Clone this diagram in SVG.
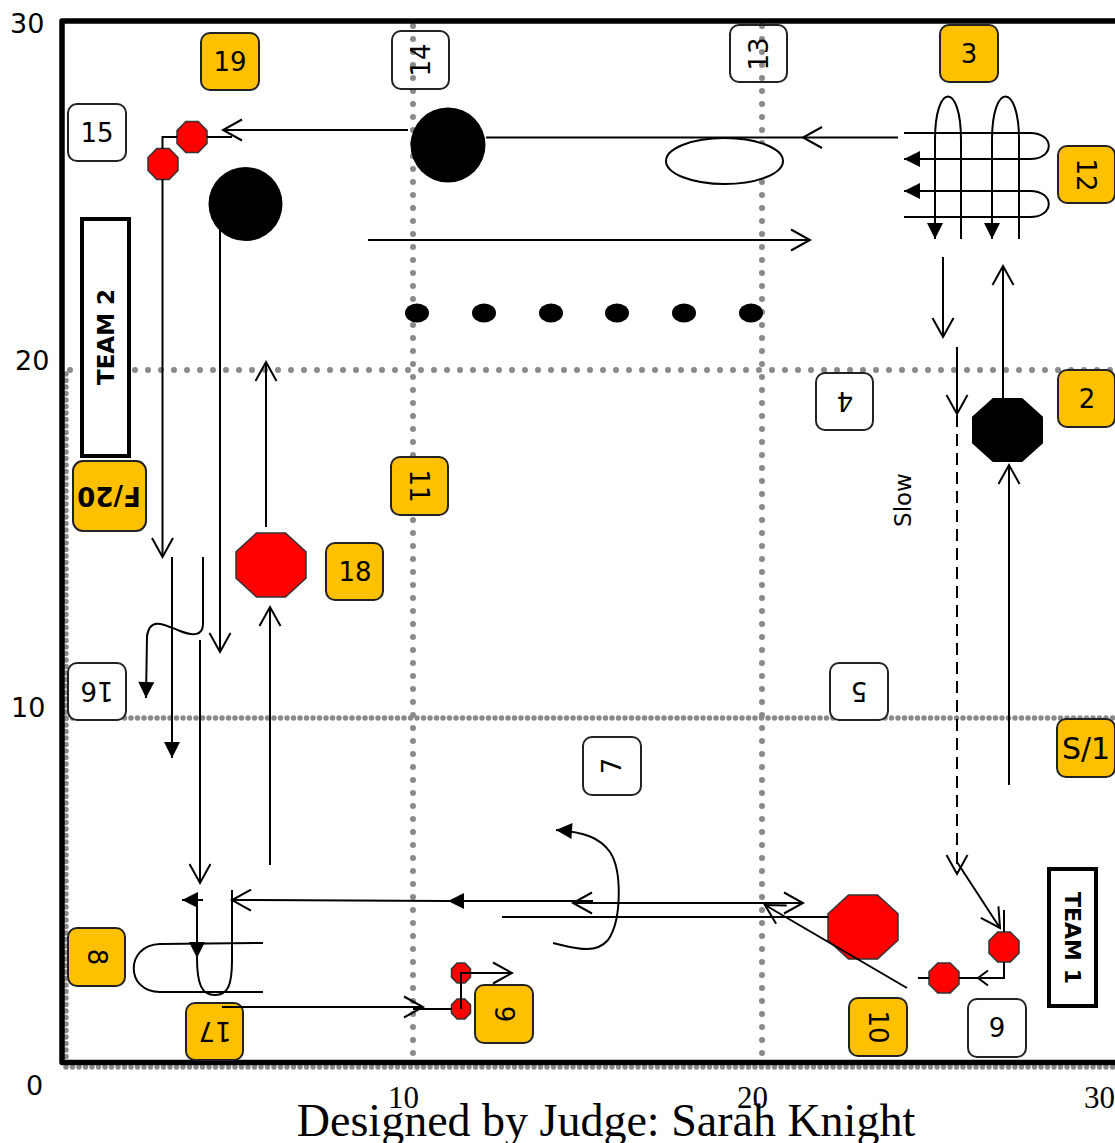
<svg xmlns="http://www.w3.org/2000/svg" width="1115" height="1143" viewBox="0 0 1115 1143">
<style>
.grid{fill:none;stroke:#8a8a8a;stroke-linecap:round}
.sp{stroke-width:6;stroke-dasharray:0 13}
.dn{stroke-width:5.5;stroke-dasharray:0 6.5}
.frame{fill:none;stroke:#000;stroke-width:5.5;stroke-linejoin:round}
.box{stroke:#222;stroke-width:2}
.y{fill:#FFC000}
.w{fill:#fff}
.lbl{font-family:"DejaVu Sans",Verdana,sans-serif;font-size:26px;fill:#000;text-anchor:middle;dominant-baseline:central}
.bold{font-weight:bold}
.team{fill:#fff;stroke:#000;stroke-width:4}
.ln{fill:none;stroke:#000;stroke-width:2}
.oa{marker-end:url(#open)}
.fa{marker-end:url(#filled)}
.red{fill:#FF0000;stroke:#333;stroke-width:1.5}
.blk{fill:#000}
.ax{font-family:"DejaVu Sans",Verdana,sans-serif;font-size:27px;fill:#000}
.axs{font-family:"Liberation Serif","Times New Roman",serif;font-size:31px;fill:#000}
</style>
<defs>
<marker id="open" viewBox="-22 -13 26 26" refX="0" refY="0" markerWidth="26" markerHeight="26" orient="auto-start-reverse" markerUnits="userSpaceOnUse">
<path d="M-19,-10.5 L0,0 L-19,10.5" fill="none" stroke="#000" stroke-width="2"/>
</marker>
<marker id="openS" viewBox="-14 -9 16 18" refX="0" refY="0" markerWidth="16" markerHeight="18" orient="auto" markerUnits="userSpaceOnUse">
<path d="M-10,-7.5 L0,0 L-10,7.5" fill="none" stroke="#000" stroke-width="2"/>
</marker>
<marker id="filled" viewBox="-18 -10 20 20" refX="0" refY="0" markerWidth="20" markerHeight="20" orient="auto" markerUnits="userSpaceOnUse">
<path d="M-16,-8 L0,0 L-16,8 Z" fill="#000"/>
</marker>
</defs>
<rect width="1115" height="1143" fill="#fff"/>

<g id="grid">
<line class="grid sp" x1="413" y1="26" x2="413" y2="1066"/>
<line class="grid sp" x1="762" y1="26" x2="762" y2="1066"/>
<line class="grid sp" x1="70" y1="370" x2="1115" y2="370"/>
<line class="grid dn" x1="66" y1="718" x2="1115" y2="718"/>
<line class="grid dn" x1="66" y1="374" x2="66" y2="1066"/>
<line class="grid dn" x1="66" y1="1067" x2="1115" y2="1067"/>
</g>
<g id="frame">
<path class="frame" d="M1120,21 L62,21 L62,1062.5 L1120,1062.5"/>
</g>
<g id="axes">
<text class="ax" x="10" y="33">30</text>
<text class="ax" x="15" y="370">20</text>
<text class="ax" x="11" y="717">10</text>
<text class="ax" x="26" y="1095">0</text>
<text class="axs" x="388" y="1108">10</text>
<text class="axs" x="737" y="1108">20</text>
<text class="axs" x="1084" y="1108">30</text>
</g>

<g id="nodes">
<g id="n19"><rect class="box y" x="201" y="33" width="58" height="57" rx="9"/><text class="lbl" x="230" y="62">19</text></g>
<g id="n15"><rect class="box w" x="68" y="104" width="58" height="57" rx="9"/><text class="lbl" x="97" y="133">15</text></g>
<g id="n14"><rect class="box" fill="none" x="392" y="31" width="57" height="58" rx="9"/><text class="lbl" transform="translate(421,60) rotate(-90)">14</text></g>
<g id="n13"><rect class="box" fill="none" x="730" y="25" width="57" height="57" rx="9"/><text class="lbl" transform="translate(759,54) rotate(-90)">13</text></g>
<g id="n3"><rect class="box y" x="940" y="25" width="58" height="57" rx="9"/><text class="lbl" x="969" y="54">3</text></g>
<g id="n12"><rect class="box y" x="1058" y="146" width="57" height="57" rx="9"/><text class="lbl" transform="translate(1086,175) rotate(90)">12</text></g>
<g id="n2"><rect class="box y" x="1058" y="370" width="57" height="57" rx="9"/><text class="lbl" x="1087" y="399">2</text></g>
<g id="n4"><rect class="box w" x="816" y="373" width="57" height="57" rx="9"/><text class="lbl" transform="translate(845,401) rotate(180)">4</text></g>
<g id="team2"><rect class="team" x="82" y="219" width="47" height="237"/><text class="lbl bold" style="font-size:23px" transform="translate(106,337) rotate(-90)">TEAM 2</text></g>
<g id="nF20"><rect class="box y" x="73" y="461" width="73" height="70" rx="10"/><text class="lbl bold" transform="translate(109,496) rotate(180)">F/20</text></g>
<g id="n11"><rect class="box y" x="391" y="457" width="57" height="58" rx="9"/><text class="lbl" transform="translate(419,486) rotate(90)">11</text></g>
<g id="n18"><rect class="box y" x="326" y="543" width="57" height="57" rx="9"/><text class="lbl" x="355" y="572">18</text></g>
<g id="n16"><rect class="box w" x="68" y="663" width="58" height="57" rx="9"/><text class="lbl" transform="translate(97,691) rotate(180)">16</text></g>
<g id="n5"><rect class="box w" x="830" y="663" width="58" height="57" rx="9"/><text class="lbl" transform="translate(859,691) rotate(180)">5</text></g>
<g id="n7"><rect class="box w" x="583" y="737" width="58" height="58" rx="9"/><text class="lbl" transform="translate(612,766) rotate(-90)">7</text></g>
<g id="nS1"><rect class="box y" x="1057" y="719" width="58" height="58" rx="9"/><text class="lbl" style="font-size:30px" x="1086" y="748">S/1</text></g>
<g id="n8"><rect class="box y" x="68" y="928" width="57" height="58" rx="9"/><text class="lbl" transform="translate(97,957) rotate(90)">8</text></g>
<g id="n17"><rect class="box y" x="186" y="1003" width="57" height="57" rx="9"/><text class="lbl" transform="translate(215,1031) rotate(180)">17</text></g>
<g id="n6"><rect class="box y" x="475" y="985" width="58" height="58" rx="9"/><text class="lbl" transform="translate(504,1014) rotate(90)">9</text></g>
<g id="n10"><rect class="box y" x="849" y="998" width="58" height="58" rx="9"/><text class="lbl" transform="translate(878,1027) rotate(90)">10</text></g>
<g id="n9"><rect class="box w" x="968" y="999" width="58" height="58" rx="9"/><text class="lbl" x="997" y="1028">9</text></g>
<g id="team1"><rect class="team" x="1049" y="869" width="47" height="137"/><text class="lbl bold" style="font-size:22px" transform="translate(1072,938) rotate(90)">TEAM 1</text></g>

<g id="ball1"><circle class="blk" cx="448" cy="145" r="37.5"/></g>
<g id="ball2"><circle class="blk" cx="245.5" cy="204" r="37"/></g>
<g id="ring"><ellipse cx="724.5" cy="161" rx="58.5" ry="23" fill="#fff" stroke="#000" stroke-width="2"/></g>
<g id="dots">
<ellipse class="blk" cx="417" cy="313" rx="12" ry="9.5"/>
<ellipse class="blk" cx="484" cy="313" rx="12" ry="9.5"/>
<ellipse class="blk" cx="551" cy="313" rx="12" ry="9.5"/>
<ellipse class="blk" cx="617" cy="313" rx="12" ry="9.5"/>
<ellipse class="blk" cx="684" cy="313" rx="12" ry="9.5"/>
<ellipse class="blk" cx="751" cy="313" rx="12" ry="9.5"/>
</g>
<g id="stopBlack"><polygon class="blk" points="992.8,398 1022.2,398 1043,416.75 1043,443.25 1022.2,462 992.8,462 972,443.25 972,416.75"/></g>
<g id="stop18"><polygon class="red" points="256.5,533 285.5,533 306,551.75 306,578.25 285.5,597 256.5,597 236,578.25 236,551.75"/></g>
<g id="stop10"><polygon class="red" points="848.5,895 877.5,895 898,913.75 898,940.25 877.5,959 848.5,959 828,940.25 828,913.75"/></g>
<g id="stop15a"><polygon class="red" points="185.8,121.5 198.2,121.5 207,130.6 207,143.4 198.2,152.5 185.8,152.5 177,143.4 177,130.6"/></g>
<g id="stop15b"><polygon class="red" points="156.8,148.5 169.2,148.5 178,157.6 178,170.4 169.2,179.5 156.8,179.5 148,170.4 148,157.6"/></g>
<g id="stop6a"><polygon class="red" points="457.1,963 464.9,963 470.5,968.9 470.5,977.1 464.9,983 457.1,983 451.5,977.1 451.5,968.9"/></g>
<g id="stop6b"><polygon class="red" points="457.1,999 464.9,999 470.5,1004.9 470.5,1013.1 464.9,1019 457.1,1019 451.5,1013.1 451.5,1004.9"/></g>
<g id="stop9a"><polygon class="red" points="997.8,932 1010.2,932 1019,940.8 1019,953.2 1010.2,962 997.8,962 989,953.2 989,940.8"/></g>
<g id="stop9b"><polygon class="red" points="937.8,963 950.2,963 959,971.8 959,984.2 950.2,993 937.8,993 929,984.2 929,971.8"/></g>
<g id="slow"><text class="lbl" style="font-size:23px" transform="translate(903,500) rotate(-90)">Slow</text></g>
</g>

<g id="connectors">
<path class="ln oa" d="M408,130 L223,130"/>
<path class="ln" d="M232,137 L207,137"/>
<path class="ln" d="M177,137 L162.5,137 L162.5,149"/>
<path class="ln oa" d="M162.5,179 L162.5,557"/>
<path class="ln" d="M486,137.5 L803,137.5"/>
<path class="ln oa" d="M898,137.5 L803,137.5"/>
<path class="ln oa" d="M368,240 L810,240"/>
<path class="ln fa" d="M961,239 L961,140 C961,82 935,82 935,140 L935,239"/>
<path class="ln fa" d="M1019,239 L1019,140 C1019,82 992,82 992,140 L992,239"/>
<path class="ln fa" d="M904,133 L1030,133 C1055,133 1055,159 1030,159 L904,159"/>
<path class="ln fa" d="M904,217 L1030,217 C1055,217 1055,191 1030,191 L904,191"/>
<path class="ln oa" d="M943,257 L943,337"/>
<path class="ln oa" d="M1003,398 L1003,266"/>
<path class="ln oa" d="M1009,785 L1009,465"/>
<path class="ln oa" d="M957,347 L957,414"/>
<path class="ln oa" d="M957,415 L957,874" stroke-dasharray="12 7"/>
<path class="ln oa" d="M957,862 L1000,928"/>
<path class="ln" d="M1004,910 L1004,932"/>
<path class="ln" d="M1004,962 L1004,978 L978,978" marker-end="url(#openS)"/>
<path class="ln" d="M978,978 L959,978"/>
<path class="ln" d="M929,978 L918,978"/>
<path class="ln oa" d="M907,988 L765,905"/>
<path class="ln" d="M502,917 L828,917"/>
<path class="ln oa" d="M573,903 L803,903" marker-start="url(#open)"/>
<path class="ln fa" d="M593,901 L448,901"/>
<path class="ln oa" d="M448,901 L232,900"/>
<path class="ln fa" d="M553,943 C575,948 595,955 608,940 C622,920 622,870 610,852 C600,838 585,832 556,830"/>
<path class="ln oa" d="M220,230 L220,652"/>
<path class="ln oa" d="M266,527 L266,362"/>
<path class="ln oa" d="M270,865 L270,607"/>
<path class="ln fa" d="M172,557 L172,758"/>
<path class="ln fa" d="M203,557 L203,624 C203,636 193,636 180,631 C165,625 150,616 147,636 L146,698"/>
<path class="ln oa" d="M200,640 L200,883"/>
<path class="ln fa" d="M203,900 L182,900"/>
<path class="ln fa" d="M197,893 L197,958"/>
<path class="ln" d="M197,958 C197,985 202,995 215,995 C228,995 232,985 232,960 L232,890"/>
<path class="ln" d="M263,943 L160,944 C125,945 125,992 160,992 L263,992"/>
<path class="ln oa" d="M222,1007 L423,1007"/>
<path class="ln" d="M413,1009 L452,1009"/>
<path class="ln oa" d="M461,1009 L461,973 L512,973"/>
</g>

<text x="606" y="1136" font-family="'Liberation Serif','Times New Roman',serif" font-size="46" text-anchor="middle" fill="#000">Designed by Judge: Sarah Knight</text>
</svg>
